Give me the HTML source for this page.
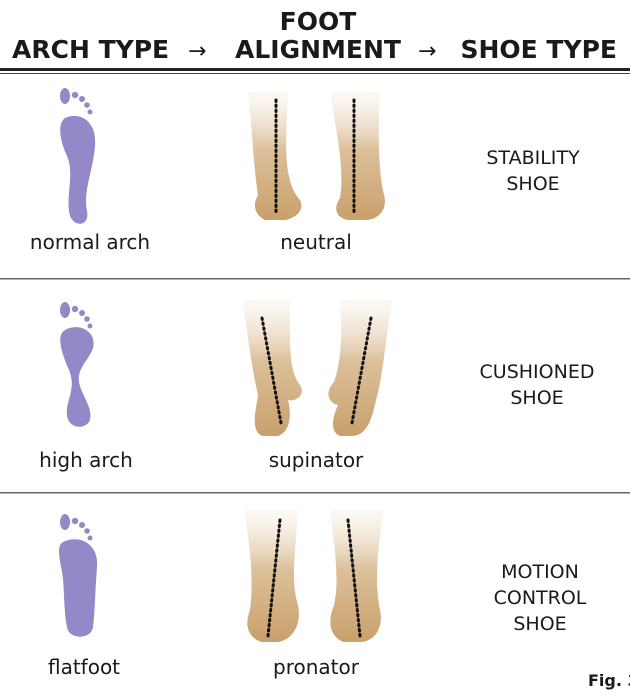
<!DOCTYPE html>
<html><head><style>
body{margin:0;background:#fff;}
svg{display:block}
text{font-family:"DejaVu Sans","Liberation Sans",sans-serif;fill:#1a1a1a}
</style></head><body>
<svg width="630" height="700" viewBox="0 0 630 700">
<defs>
<linearGradient id="leg" x1="0" y1="0" x2="0" y2="1">
<stop offset="0" stop-color="#f6ecdf" stop-opacity="0.3"/>
<stop offset="0.45" stop-color="#dcc09a"/>
<stop offset="1" stop-color="#c9a06c"/>
</linearGradient>
<g id="foot">
<ellipse cx="10" cy="10" rx="5" ry="8" fill="#9488c8"/>
<circle cx="20" cy="9" r="3.2" fill="#9488c8"/>
<circle cx="27" cy="13" r="3" fill="#9488c8"/>
<circle cx="32" cy="19" r="2.8" fill="#9488c8"/>
<circle cx="35" cy="26" r="2.5" fill="#9488c8"/>
</g>
</defs>
<!-- header -->
<text x="12" y="58" font-size="25" font-weight="bold">ARCH TYPE</text>
<text x="188" y="58" font-size="22">→</text>
<text x="318" y="30" font-size="25" font-weight="bold" text-anchor="middle">FOOT</text>
<text x="318" y="58" font-size="25" font-weight="bold" text-anchor="middle">ALIGNMENT</text>
<text x="418" y="58" font-size="22">→</text>
<text x="617" y="58" font-size="25" font-weight="bold" text-anchor="end">SHOE TYPE</text>
<rect x="0" y="68" width="630" height="3" fill="#222"/>
<rect x="0" y="73" width="630" height="1" fill="#444"/>
<rect x="0" y="278" width="630" height="1.5" fill="#666"/>
<rect x="0" y="492" width="630" height="1.5" fill="#666"/>

<!-- row1 feet -->
<g transform="translate(55,86)">
<use href="#foot"/>
<path d="M10 32 C25 25 42 35 40 60 C38 85 28 105 32 125 C35 140 20 142 15 130 C10 110 20 90 12 70 C5 55 2 38 10 32Z" fill="#9488c8"/>
</g>
<g transform="translate(55,300)">
<use href="#foot"/>
<path d="M10 30 C25 22 42 32 38 48 C34 60 22 68 24 82 C26 95 40 110 34 122 C28 130 14 128 12 116 C10 100 22 90 14 70 C8 56 0 36 10 30Z" fill="#9488c8"/>
</g>
<g transform="translate(55,512)">
<use href="#foot"/>
<path d="M8 30 C25 22 44 32 42 55 C40 80 40 100 38 115 C36 128 14 128 12 115 C8 95 10 70 6 55 C4 42 2 34 8 30Z" fill="#9488c8"/>
</g>
<text x="90" y="249" font-size="20" text-anchor="middle">normal arch</text>
<text x="86" y="467" font-size="20" text-anchor="middle">high arch</text>
<text x="84" y="674" font-size="20" text-anchor="middle">flatfoot</text>

<!-- legs row1 -->
<path d="M248 92 L288 92 C286 140 282 180 300 200 C305 210 296 218 285 220 L265 220 C255 215 252 205 258 195 C254 170 252 130 248 92Z" fill="url(#leg)"/>
<path d="M330 92 L380 92 C378 130 378 170 384 195 C388 210 378 220 365 220 L348 220 C336 218 333 208 340 198 C345 170 336 130 330 92Z" fill="url(#leg)"/>
<line x1="276" y1="100" x2="276" y2="212" stroke="#111" stroke-width="3" stroke-dasharray="1.5 3.5" stroke-linecap="round"/>
<line x1="354" y1="100" x2="354" y2="212" stroke="#111" stroke-width="3" stroke-dasharray="1.5 3.5" stroke-linecap="round"/>
<!-- legs row2 -->
<path d="M242 300 L290 300 C290 340 288 370 300 385 C306 395 296 402 288 400 C292 415 290 432 278 436 L262 436 C250 430 256 410 258 395 C252 370 248 335 242 300Z" fill="url(#leg)"/>
<path d="M340 300 L392 300 C386 340 382 380 376 400 C372 420 366 436 352 436 L340 436 C330 432 332 418 338 405 C326 402 326 390 334 382 C342 360 342 330 340 300Z" fill="url(#leg)"/>
<line x1="262" y1="318" x2="281" y2="423" stroke="#111" stroke-width="3" stroke-dasharray="1.5 3.5" stroke-linecap="round"/>
<line x1="371" y1="318" x2="352" y2="423" stroke="#111" stroke-width="3" stroke-dasharray="1.5 3.5" stroke-linecap="round"/>
<!-- legs row3 -->
<path d="M244 510 L298 510 C296 550 290 580 298 605 C302 625 292 640 278 642 L262 642 C248 638 244 625 250 610 C254 580 250 545 244 510Z" fill="url(#leg)"/>
<path d="M330 510 L384 510 C378 545 374 580 380 610 C384 628 374 642 360 642 L344 642 C332 638 326 625 334 605 C340 580 334 545 330 510Z" fill="url(#leg)"/>
<line x1="280" y1="520" x2="268" y2="636" stroke="#111" stroke-width="3" stroke-dasharray="1.5 3.5" stroke-linecap="round"/>
<line x1="348" y1="520" x2="360" y2="636" stroke="#111" stroke-width="3" stroke-dasharray="1.5 3.5" stroke-linecap="round"/>

<text x="316" y="249" font-size="20" text-anchor="middle">neutral</text>
<text x="316" y="467" font-size="20" text-anchor="middle">supinator</text>
<text x="316" y="674" font-size="20" text-anchor="middle">pronator</text>

<text x="533" y="164" font-size="19" text-anchor="middle">STABILITY</text>
<text x="533" y="190" font-size="19" text-anchor="middle">SHOE</text>
<text x="537" y="378" font-size="19" text-anchor="middle">CUSHIONED</text>
<text x="537" y="404" font-size="19" text-anchor="middle">SHOE</text>
<text x="540" y="578" font-size="19" text-anchor="middle">MOTION</text>
<text x="540" y="604" font-size="19" text-anchor="middle">CONTROL</text>
<text x="540" y="630" font-size="19" text-anchor="middle">SHOE</text>
<text x="588" y="686" font-size="16" font-weight="bold">Fig. 3</text>
</svg>
</body></html>
